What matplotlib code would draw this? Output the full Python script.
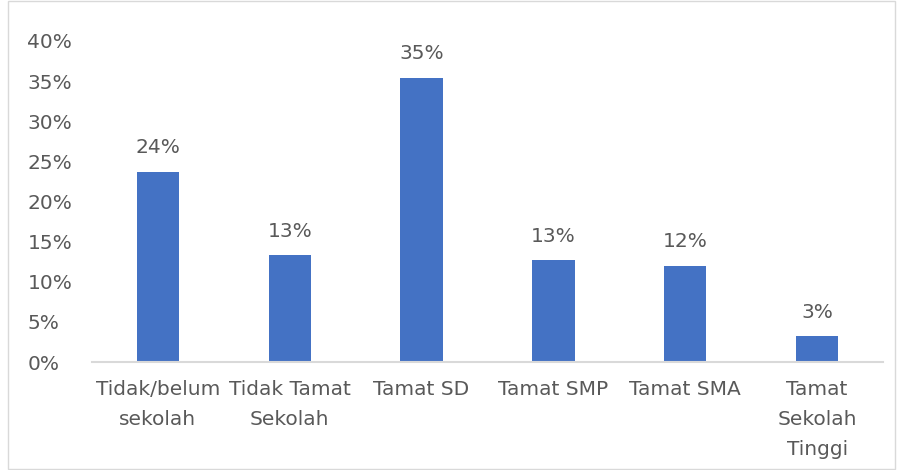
import matplotlib.pyplot as plt
from matplotlib.patches import Rectangle

categories = ['Tidak/belum\nsekolah', 'Tidak Tamat\nSekolah', 'Tamat SD',
              'Tamat SMP', 'Tamat SMA', 'Tamat\nSekolah\nTinggi']
values = [0.237, 0.133, 0.354, 0.127, 0.120, 0.032]
labels = ['24%', '13%', '35%', '13%', '12%', '3%']

plt.rcParams['font.family'] = ['DejaVu Sans']
txt = '#595959'
fs = 14.5

fig = plt.figure(figsize=(8.99, 4.70), dpi=100)
ax = fig.add_axes([92/899, 1-362/470, (883-92)/899, (362-41)/470])

x = range(len(categories))
ax.bar(x, values, width=0.32, color='#4472C4')
for i, v in enumerate(values):
    ax.text(i, v + 0.018, labels[i], ha='center', va='bottom', fontsize=fs, color=txt)

ax.set_xlim(-0.5, 5.5)
ax.set_ylim(0, 0.4)
ax.set_yticks([i/100 for i in range(0, 41, 5)])
ax.set_yticklabels(['%d%%' % i for i in range(0, 41, 5)])
ax.set_xticks(list(x))
ax.set_xticklabels(categories, linespacing=1.72)
ax.tick_params(axis='both', length=0, labelsize=fs, labelcolor=txt)
ax.tick_params(axis='x', pad=13)
ax.tick_params(axis='y', pad=46.5)
for lab in ax.get_yticklabels():
    lab.set_horizontalalignment('left')
for s in ['top', 'right', 'left']:
    ax.spines[s].set_visible(False)
ax.spines['bottom'].set_color('#D9D9D9')
ax.spines['bottom'].set_linewidth(1.5)

fig.patches.append(Rectangle((8/899, 0.002), 887/899, 0.996, transform=fig.transFigure,
                             fill=False, edgecolor='#D9D9D9', linewidth=1))

plt.savefig('out.png')
